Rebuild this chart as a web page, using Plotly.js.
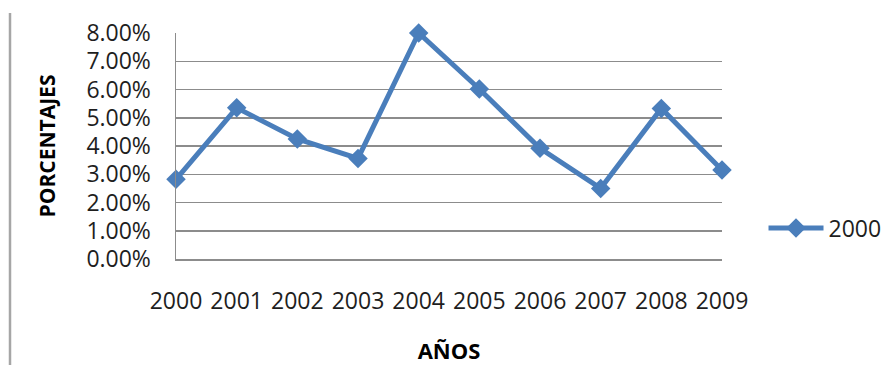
<!DOCTYPE html>
<html>
<head>
<meta charset="utf-8">
<script src="https://cdn.plot.ly/plotly-3.0.1.min.js"></script>
<style>html,body{margin:0;padding:0;background:#fff;}#chart{width:893px;height:365px;}</style>
</head>
<body>
<div id="chart"></div>
<script>
const years = ['2000','2001','2002','2003','2004','2005','2006','2007','2008','2009'];
const values = [0.0282, 0.0535, 0.0425, 0.0356, 0.0800, 0.0602, 0.0392, 0.0250, 0.0533, 0.0315];
const seriesName = '2000';
const yTitle = 'PORCENTAJES';
const xTitle = 'AÑOS';

const blue = '#4A7EBB';
const grid = '#8C8C8C';
const fontFam = '"Open Sans", Calibri, sans-serif';

const trace = {
  x: years, y: values, type: 'scatter', mode: 'lines+markers', name: seriesName,
  line: {color: blue, width: 5},
  marker: {symbol: 'diamond', size: 15, color: blue},
  cliponaxis: false
};

const layout = {
  width: 893, height: 365,
  margin: {l: 176, r: 171, t: 33, b: 106},
  paper_bgcolor: '#fff', plot_bgcolor: '#fff',
  font: {family: fontFam, size: 23, color: '#1e1e1e'},
  showlegend: true,
  legend: {xref: 'container', yref: 'container', x: 0.855, y: 0.375, xanchor: 'left', yanchor: 'middle',
           font: {size: 23}, itemwidth: 55, bgcolor: 'rgba(0,0,0,0)'},
  xaxis: {
    type: 'category', range: [0, 9], showgrid: false, zeroline: false,
    showline: true, linecolor: grid, linewidth: 1.5,
    ticks: '', ticklabelstandoff: 21,
    title: {text: xTitle, font: {family: fontFam, size: 22, color: '#000', weight: 'bold'}, standoff: 30},
    automargin: false
  },
  yaxis: {
    range: [0, 0.08], dtick: 0.01, tickformat: '.2%',
    showgrid: true, gridcolor: grid, gridwidth: 1.5, zeroline: false,
    showline: true, linecolor: grid, linewidth: 1.5,
    ticks: '', ticklabelstandoff: 19,
    title: {text: yTitle, font: {family: fontFam, size: 21, color: '#000', weight: 'bold'}, standoff: 25},
    automargin: true
  },
  shapes: [
    {type: 'line', xref: 'paper', yref: 'paper', x0: (10-176)/546, x1: (10-176)/546, y0: (259-13)/226, y1: -1, line: {color: '#A6A6A6', width: 2.5}}
  ]
};

Plotly.newPlot('chart', [trace], layout, {displayModeBar: false, staticPlot: true});
</script>
</body>
</html>
